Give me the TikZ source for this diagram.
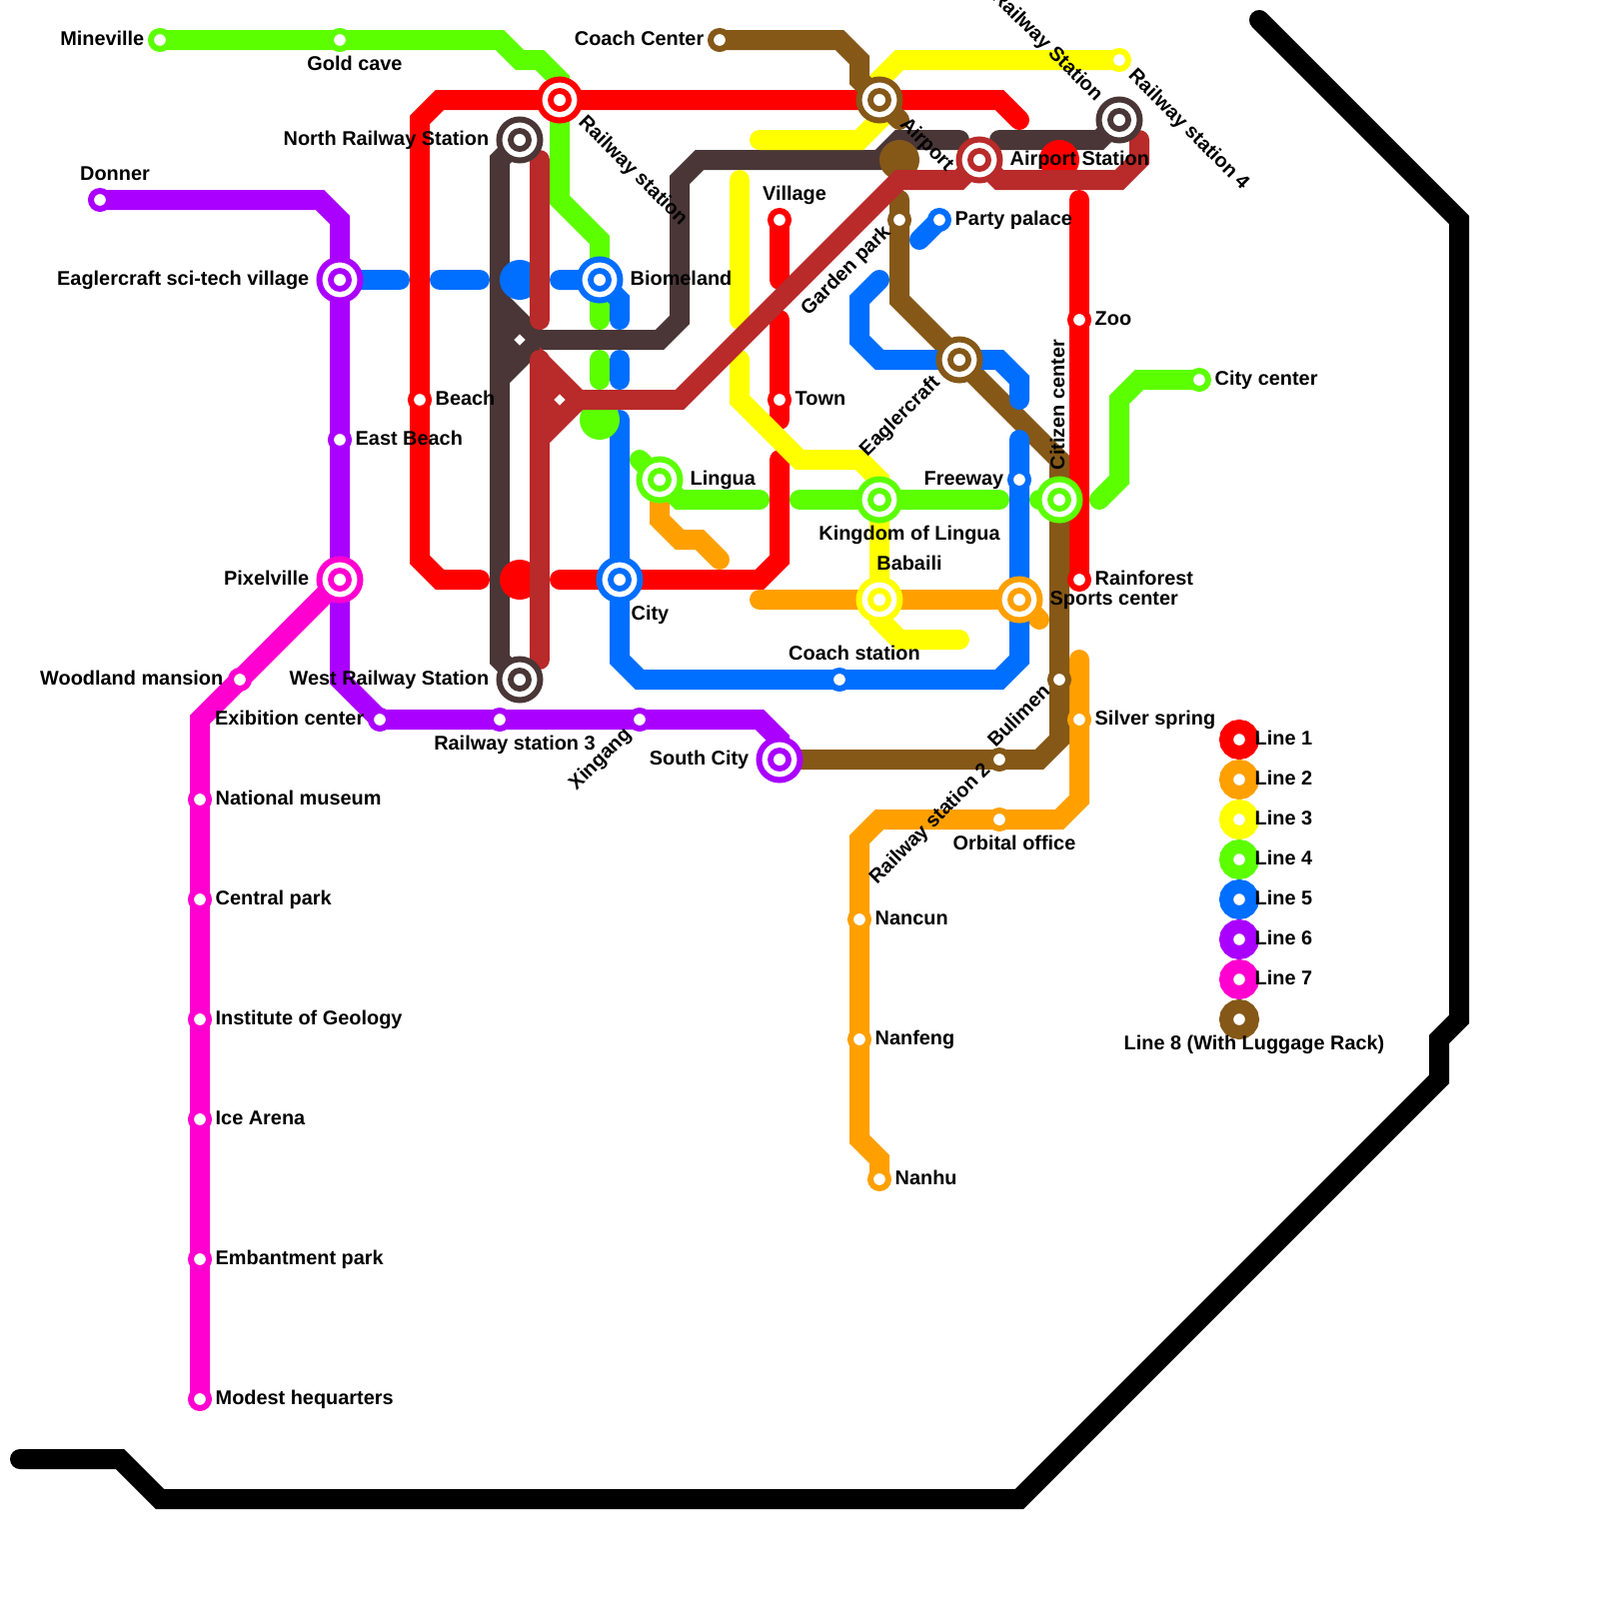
\documentclass[tikz,border=0pt]{standalone}
\usepackage{fontspec}
\setsansfont{Liberation Sans}
\usetikzlibrary{backgrounds,shapes.geometric}
\definecolor{mtrRed}{HTML}{FF0000}
\definecolor{mtrOrange}{HTML}{FFA000}
\definecolor{mtrYellow}{HTML}{FFFF00}
\definecolor{mtrGreen}{HTML}{5CFF00}
\definecolor{mtrBlue}{HTML}{006EFF}
\definecolor{mtrPurple}{HTML}{AA00FF}
\definecolor{mtrPink}{HTML}{FF00D0}
\definecolor{mtrBrown}{HTML}{855818}
\definecolor{mtrBrick}{HTML}{B92A2A}
\definecolor{mtrDark}{HTML}{4A3636}
\tikzset{
  mtr line/.style={draw=#1, line width=2mm, line cap=round},
  mtr stop/.style={circle, draw=#1, fill=white, line width=0.6mm, minimum size=1.8mm, inner sep=0pt},
  mtr hub/.style={circle, draw=#1, fill=white, line width=0.6mm, minimum size=4.1mm, inner sep=0pt,
    path picture={\fill[#1] (path picture bounding box.center) circle (12);
      \fill[white] (path picture bounding box.center) circle (6);}},
  mtr blob/.style={circle, fill=#1, minimum size=4mm, inner sep=0pt},
  mtr key/.style={circle, draw=#1, fill=white, line width=1.4mm, minimum size=2.6mm, inner sep=0pt},
  mtr mark/.style={diamond, fill=white, minimum size=1.2mm, inner sep=0pt},
  mtr label/.style={font=\sffamily\bfseries\fontsize{5.66pt}{6.5pt}\selectfont, inner sep=0pt},
  mtr side/.style={mtr label, yshift=-0.15mm},
}
\begin{document}
\begin{tikzpicture}[x=0.1mm,y=-0.1mm]
\useasboundingbox (0,0) rectangle (1600,1600);
% line 1
\node[mtr stop=mtrRed](beach)at(420,400){};\node[mtr stop=mtrRed](village)at(780,220){};\node[mtr stop=mtrRed](town)at(780,400){};
\node[mtr stop=mtrRed](zoo)at(1080,320){};\node[mtr stop=mtrRed](rainforest)at(1080,580){};
\node[mtr hub=mtrRed](railway)at(560,100){};
% line 2
\node[mtr stop=mtrOrange](silver)at(1080,720){};\node[mtr stop=mtrOrange](orbital)at(1000,820){};\node[mtr stop=mtrOrange](nancun)at(860,920){};
\node[mtr stop=mtrOrange](nanfeng)at(860,1040){};\node[mtr stop=mtrOrange](nanhu)at(880,1180){};
\node[mtr hub=mtrOrange](sports)at(1020,600){};
% line 3
\node[mtr stop=mtrYellow](railfour)at(1120,60){};\node[mtr hub=mtrYellow](babaili)at(880,600){};
% line 4
\node[mtr stop=mtrGreen](mineville)at(160,40){};\node[mtr stop=mtrGreen](goldcave)at(340,40){};\node[mtr stop=mtrGreen](citycenter)at(1200,380){};
\node[mtr hub=mtrGreen](lingua)at(660,480){};\node[mtr hub=mtrGreen](kingdom)at(880,500){};\node[mtr hub=mtrGreen](citizen)at(1060,500){};
% line 5
\node[mtr stop=mtrBlue](party)at(940,220){};\node[mtr stop=mtrBlue](freeway)at(1020,480){};\node[mtr stop=mtrBlue](coachst)at(840,680){};
\node[mtr hub=mtrBlue](biomeland)at(600,280){};\node[mtr hub=mtrBlue](city)at(620,580){};
% line 6
\node[mtr stop=mtrPurple](donner)at(100,200){};\node[mtr stop=mtrPurple](eastbeach)at(340,440){};\node[mtr stop=mtrPurple](exibition)at(380,720){};
\node[mtr stop=mtrPurple](railthree)at(500,720){};\node[mtr stop=mtrPurple](xingang)at(640,720){};
\node[mtr hub=mtrPurple](sciTech)at(340,280){};\node[mtr hub=mtrPurple](southcity)at(780,760){};
% line 7
\node[mtr stop=mtrPink](woodland)at(240,680){};\node[mtr stop=mtrPink](museum)at(200,800){};\node[mtr stop=mtrPink](central)at(200,900){};
\node[mtr stop=mtrPink](geology)at(200,1020){};\node[mtr stop=mtrPink](icearena)at(200,1120){};\node[mtr stop=mtrPink](embant)at(200,1260){};
\node[mtr stop=mtrPink](modest)at(200,1400){};\node[mtr hub=mtrPink](pixelville)at(340,580){};
% line 8
\node[mtr stop=mtrBrown](coachct)at(720,40){};\node[mtr stop=mtrBrown](garden)at(900,220){};\node[mtr stop=mtrBrown](bulimen)at(1060,680){};
\node[mtr stop=mtrBrown](railtwo)at(1000,760){};\node[mtr hub=mtrBrown](airport)at(880,100){};\node[mtr hub=mtrBrown](eaglercraft)at(960,360){};
% the two dark lines
\node[mtr hub=mtrDark](northrail)at(520,140){};\node[mtr hub=mtrDark](westrail)at(520,680){};\node[mtr hub=mtrDark](eastrail)at(1120,120){};
\node[mtr hub=mtrBrick](airportst)at(980,160){};
\node[mtr mark](darkmark)at(520,340){};\node[mtr mark](brickmark)at(560,400){};
% free ends of the lines
\coordinate(r1)at(480,580);\coordinate(r2)at(560,580);\coordinate(r3)at(1020,120);\coordinate(r4)at(780,280);\coordinate(r5)at(780,320);\coordinate(r6)at(780,420);\coordinate(r7)at(780,460);\coordinate(r8)at(1080,200);
\coordinate(o1)at(1080,660);\coordinate(o2)at(760,600);\coordinate(o3)at(1040,620);\coordinate(o4)at(720,560);
\coordinate(y1)at(760,140);\coordinate(y2)at(740,180);\coordinate(y3)at(740,320);\coordinate(y4)at(740,360);\coordinate(y5)at(960,640);
\coordinate(g1)at(600,320);\coordinate(g2)at(600,360);\coordinate(g3)at(600,380);\coordinate(g4)at(640,460);\coordinate(g5)at(760,500);\coordinate(g6)at(800,500);\coordinate(g7)at(1000,500);\coordinate(g8)at(1040,500);\coordinate(g9)at(1100,500);
\coordinate(b1)at(400,280);\coordinate(b2)at(440,280);\coordinate(b3)at(480,280);\coordinate(b4)at(560,280);\coordinate(b5)at(620,320);\coordinate(b6)at(620,360);\coordinate(b7)at(620,380);\coordinate(b8)at(620,420);\coordinate(b9)at(1020,440);\coordinate(b10)at(1020,400);\coordinate(b11)at(880,280);\coordinate(b12)at(920,240);
\coordinate(br1)at(900,120);\coordinate(br2)at(900,200);
\coordinate(d1)at(880,160);\coordinate(d2)at(960,140);\coordinate(d3)at(1000,140);
\coordinate(f1)at(540,160);\coordinate(f2)at(540,320);\coordinate(f3)at(540,360);\coordinate(f4)at(540,660);\coordinate(f5)at(1140,140);
\coordinate(k1)at(20,1460);\coordinate(k2)at(1260,20);
\begin{scope}[on background layer]
\draw[mtr line=mtrDark](northrail.center)--(500,160)--(500,660)--(westrail.center);
\fill[mtrDark](490,277)--(543,330)--(543,350)--(490,403)--cycle;
\draw[mtr line=mtrDark](darkmark.center)--(660,340)--(680,320)--(680,180)--(700,160)--(900,160);
\draw[mtr line=mtrDark](d1)--(900,140)--(d2);\draw[mtr line=mtrDark](d3)--(1100,140)--(eastrail.center);
\node[mtr blob=mtrRed](redone)at(520,580){};\node[mtr blob=mtrRed](redtwo)at(1060,160){};
\draw[mtr line=mtrRed](r3)--(1000,100)--(railway.center)--(440,100)--(420,120)--(beach.center)--(420,560)--(440,580)--(r1);
\draw[mtr line=mtrRed](r2)--(city.center)--(760,580)--(780,560)--(r7);
\draw[mtr line=mtrRed](village.center)--(r4);\draw[mtr line=mtrRed](r5)--(town.center)--(r6);\draw[mtr line=mtrRed](r8)--(zoo.center)--(rainforest.center);
\draw[mtr line=mtrOrange](o1)--(silver.center)--(1080,800)--(1060,820)--(orbital.center)--(880,820)--(860,840)--(nancun.center)--(nanfeng.center)--(860,1140)--(880,1160)--(nanhu.center);
\draw[mtr line=mtrOrange](o2)--(babaili.center)--(sports.center)--(o3);
\draw[mtr line=mtrOrange](lingua.center)--(660,520)--(680,540)--(700,540)--(o4);
\draw[mtr line=mtrYellow](railfour.center)--(900,60)--(880,80)--(airport.center)--(880,120)--(860,140)--(y1);
\draw[mtr line=mtrYellow](y2)--(y3);
\draw[mtr line=mtrYellow](y4)--(740,400)--(800,460)--(860,460)--(880,480)--(kingdom.center)--(babaili.center)--(880,620)--(900,640)--(y5);
\draw[mtr line=mtrGreen](mineville.center)--(goldcave.center)--(500,40)--(520,60)--(540,60)--(560,80)--(railway.center)--(560,200)--(600,240)--(biomeland.center)--(g1);
\draw[mtr line=mtrGreen](g2)--(g3);\draw[mtr line=mtrGreen](g4)--(lingua.center)--(680,500)--(g5);
\draw[mtr line=mtrGreen](g6)--(kingdom.center)--(g7);\draw[mtr line=mtrGreen](g8)--(citizen.center);
\draw[mtr line=mtrGreen](g9)--(1120,480)--(1120,400)--(1140,380)--(citycenter.center);
\node[mtr blob=mtrBrown](brownone)at(900,160){};
\draw[mtr line=mtrBrown](coachct.center)--(840,40)--(860,60)--(860,80)--(airport.center)--(br1);
\draw[mtr line=mtrBrown](br2)--(garden.center)--(900,300)--(eaglercraft.center)--(1060,460)--(citizen.center)--(bulimen.center)--(1060,740)--(1040,760)--(railtwo.center)--(southcity.center);
\node[mtr blob=mtrBlue](blueone)at(520,280){};
\draw[mtr line=mtrBlue](sciTech.center)--(b1);\draw[mtr line=mtrBlue](b2)--(b3);
\draw[mtr line=mtrBlue](b4)--(biomeland.center)--(620,300)--(b5);\draw[mtr line=mtrBlue](b6)--(b7);
\draw[mtr line=mtrBlue](b8)--(city.center)--(620,660)--(640,680)--(coachst.center)--(1000,680)--(1020,660)--(sports.center)--(freeway.center)--(b9);
\draw[mtr line=mtrBlue](b10)--(1020,380)--(1000,360)--(880,360)--(860,340)--(860,300)--(b11);
\draw[mtr line=mtrBlue](party.center)--(b12);
\node[mtr blob=mtrGreen](greenone)at(600,420){};
\draw[mtr line=mtrPurple](donner.center)--(320,200)--(340,220)--(sciTech.center)--(eastbeach.center)--(pixelville.center)--(340,680)--(exibition.center)--(railthree.center)--(xingang.center)--(760,720)--(780,740)--(southcity.center);
\draw[mtr line=mtrPink](pixelville.center)--(woodland.center)--(200,720)--(museum.center)--(central.center)--(geology.center)--(icearena.center)--(embant.center)--(modest.center);
\draw[mtr line=mtrBrick](f1)--(f2);\draw[mtr line=mtrBrick](f3)--(f4);
\fill[mtrBrick](540,347)--(583,390)--(583,410)--(540,453)--cycle;
\draw[mtr line=mtrBrick](brickmark.center)--(680,400)--(900,180)--(960,180)--(airportst.center)--(1000,180)--(1120,180)--(1140,160)--(f5);
\draw[mtr line=black](k1)--(120,1460)--(160,1500)--(1020,1500)--(1440,1080)--(1440,1040)--(1460,1020)--(1460,220)--(k2);
\end{scope}
% legend
\node[mtr key=mtrRed](keyone)at(1240,740){};\node[mtr key=mtrOrange](keytwo)at(1240,780){};\node[mtr key=mtrYellow](keythree)at(1240,820){};\node[mtr key=mtrGreen](keyfour)at(1240,860){};
\node[mtr key=mtrBlue](keyfive)at(1240,900){};\node[mtr key=mtrPurple](keysix)at(1240,940){};\node[mtr key=mtrPink](keyseven)at(1240,980){};\node[mtr key=mtrBrown](keyeight)at(1240,1020){};
\node[mtr side,anchor=base west](tkeyone)at(1255,744){Line 1};\node[mtr side,anchor=base west](tkeytwo)at(1255,784){Line 2};\node[mtr side,anchor=base west](tkeythree)at(1255,824){Line 3};\node[mtr side,anchor=base west](tkeyfour)at(1255,864){Line 4};
\node[mtr side,anchor=base west](tkeyfive)at(1255,904){Line 5};\node[mtr side,anchor=base west](tkeysix)at(1255,944){Line 6};\node[mtr side,anchor=base west](tkeyseven)at(1255,984){Line 7};
\node[mtr label,anchor=base](tkeyeight)at(1255,1050){Line 8 (With Luggage Rack)};
% station names
\node[mtr side,anchor=base east](tmineville)at(145,44){Mineville};\node[mtr label,anchor=base](tgoldcave)at(355,70){Gold cave};\node[mtr label,anchor=base](tdonner)at(115,180){Donner};
\node[mtr side,anchor=base east](tscitech)at(310,284){Eaglercraft sci-tech village};\node[mtr side,anchor=base east](tnorthrail)at(490,144){North Railway Station};
\node[mtr label,rotate=-45](trailway)at(633,171){Railway station};\node[mtr side,anchor=base west](tbiomeland)at(630,284){Biomeland};
\node[mtr side,anchor=base west](tbeach)at(435,404){Beach};\node[mtr side,anchor=base west](teastbeach)at(355,444){East Beach};
\node[mtr side,anchor=base east](tpixelville)at(310,584){Pixelville};\node[mtr side,anchor=base east](twoodland)at(224,684){Woodland mansion};
\node[mtr side,anchor=base east](twestrail)at(490,684){West Railway Station};\node[mtr side,anchor=base east](texibition)at(365,724){Exibition center};
\node[mtr label,anchor=base](trailthree)at(515,750){Railway station 3};\node[mtr label,rotate=45](txingang)at(601,760){Xingang};\node[mtr side,anchor=base east](tsouthcity)at(750,764){South City};
\node[mtr side,anchor=base west](tmuseum)at(215,804){National museum};\node[mtr side,anchor=base west](tcentral)at(215,904){Central park};
\node[mtr side,anchor=base west](tgeology)at(215,1024){Institute of Geology};\node[mtr side,anchor=base west](ticearena)at(215,1124){Ice Arena};
\node[mtr side,anchor=base west](tembant)at(215,1264){Embantment park};\node[mtr side,anchor=base west](tmodest)at(215,1404){Modest hequarters};
\node[mtr side,anchor=base east](tcoachct)at(705,44){Coach Center};\node[mtr label,rotate=-45](tairport)at(927,145){Airport};\node[mtr label,anchor=base](tvillage)at(795,200){Village};
\node[mtr side,anchor=base west](ttown)at(795,404){Town};\node[mtr label,rotate=45](tgarden)at(847,271){Garden park};\node[mtr side,anchor=base west](tparty)at(955,224){Party palace};
\node[mtr side,anchor=base west](tairportst)at(1010,164){Airport Station};\node[mtr label,rotate=-45,anchor=east](teastrail)at(1100,99){Railway Station};
\node[mtr label,rotate=-45](trailfour)at(1189,130){Railway station 4};\node[mtr side,anchor=base west](tzoo)at(1095,324){Zoo};\node[mtr side,anchor=base west](tcitycenter)at(1215,384){City center};
\node[mtr label,rotate=90](tcitizen)at(1058,405){Citizen center};\node[mtr label,rotate=45](teaglercraft)at(901,417){Eaglercraft};\node[mtr side,anchor=base west](tlingua)at(690,484){Lingua};
\node[mtr side,anchor=base east](tfreeway)at(1005,484){Freeway};\node[mtr label,anchor=base](tkingdom)at(910,540){Kingdom of Lingua};\node[mtr label,anchor=base](tbabaili)at(910,570){Babaili};
\node[mtr label,anchor=base west](tcity)at(631,620){City};\node[mtr side,anchor=base west](trainforest)at(1095,584){Rainforest};\node[mtr side,anchor=base west](tsports)at(1050,604){Sports center};
\node[mtr label,anchor=base](tcoachst)at(855,660){Coach station};\node[mtr label,rotate=45](tbulimen)at(1019,716){Bulimen};\node[mtr side,anchor=base west](tsilver)at(1095,724){Silver spring};
\node[mtr label,rotate=45](trailtwo)at(931,825){Railway station 2};\node[mtr label,anchor=base](torbital)at(1015,850){Orbital office};\node[mtr side,anchor=base west](tnancun)at(875,924){Nancun};
\node[mtr side,anchor=base west](tnanfeng)at(875,1044){Nanfeng};\node[mtr side,anchor=base west](tnanhu)at(895,1184){Nanhu};
\end{tikzpicture}
\end{document}
